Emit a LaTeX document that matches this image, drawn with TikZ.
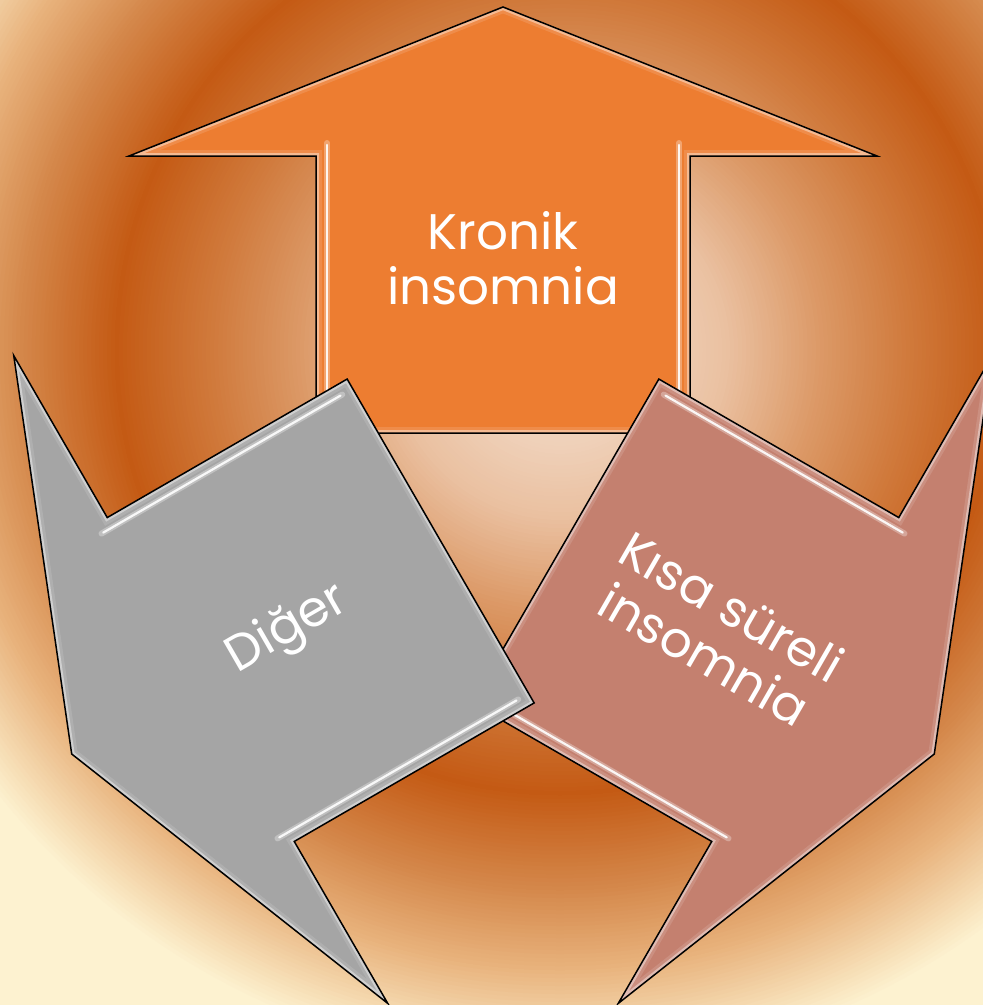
\documentclass[tikz,border=0pt]{standalone}
\usepackage{fontspec}
\setmainfont{Poppins}
\definecolor{bgA}{HTML}{F3DCCB}
\definecolor{bgB}{HTML}{EFD0B8}
\definecolor{bgC}{HTML}{EAC0A0}
\definecolor{bgD}{HTML}{DC9A68}
\definecolor{bgE}{HTML}{D07A3C}
\definecolor{bgF}{HTML}{C45A14}
\definecolor{bgG}{HTML}{D4874A}
\definecolor{bgH}{HTML}{E8B27C}
\definecolor{bgI}{HTML}{FDF2D0}
\definecolor{orangefill}{HTML}{ED7D31}
\definecolor{grayfill}{HTML}{A5A5A5}
\definecolor{pinkfill}{HTML}{C4806F}
\newcommand\arrowpath{(0,-498) -- (374,-349) -- (187,-349) -- (187,-72) -- (-187,-72) -- (-187,-349) -- (-374,-349) -- cycle}
\tikzset{
  outline/.style={draw=black, line width=1.5pt, line join=miter},
  glowwide/.style={draw=white, line width=12pt, opacity=0.12},
  glownarrow/.style={draw=white, line width=6pt, opacity=0.4},
  streakhalo/.style={draw=white, line width=6pt, opacity=0.3, line cap=round},
  streakcore/.style={draw=white, line width=2.2pt, opacity=0.9, line cap=round},
  label/.style={text=white, align=center, font=\fontsize{50}{55}\selectfont, inner sep=0pt}
}
\newcommand\drawarrow[2]{%
  \begin{scope}[shift={(503,505)}, rotate=#1]
    \fill[#2] \arrowpath;
    \begin{scope}
      \clip \arrowpath;
      \path[glowwide] \arrowpath;
      \path[glownarrow] \arrowpath;
      \path[streakhalo] (176,-362) -- (176,-84);
      \path[streakhalo] (-176,-362) -- (-176,-84);
      \path[streakcore] (176,-360) -- (176,-86);
      \path[streakcore] (-176,-360) -- (-176,-86);
    \end{scope}
    \path[outline] \arrowpath;
  \end{scope}}
\begin{document}
\begin{tikzpicture}[x=1pt, y=-1pt]
  \useasboundingbox (0,0) rectangle (983,1005);
  \begin{scope}
    \clip (0,0) rectangle (983,1005);
    \fill[bgI] (0,0) rectangle (983,1005);
    \foreach \ra/\ca/\rb/\cb/\n in {720/bgI/620/bgH/25, 620/bgH/540/bgG/20, 540/bgG/445/bgF/24, 445/bgF/350/bgE/24, 350/bgE/260/bgD/22, 260/bgD/170/bgC/22, 170/bgC/100/bgB/18, 100/bgB/0/bgA/25}{
      \foreach \i in {0,...,\n}{
        \pgfmathsetmacro\rr{\ra-(\ra-\rb)*\i/\n}
        \pgfmathsetmacro\pp{100*\i/\n}
        \fill[\cb!\pp!\ca] (560,350) circle (\rr pt);
      }
    }
  \end{scope}
  \drawarrow{0}{orangefill}
  \drawarrow{-120}{pinkfill}
  \drawarrow{120}{grayfill}
  \node[label] (kronik) at (503,258) {Kronik\\insomnia};
  \node[label, rotate=30] (diger) at (288,630) {Diğer};
  \node[label, rotate=-30] (kisa) at (718,630) {Kısa süreli\\insomnia};
\end{tikzpicture}
\end{document}
